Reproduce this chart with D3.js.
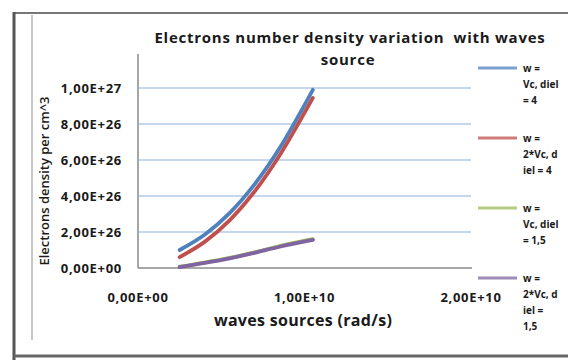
<!DOCTYPE html>
<html>
<head>
<meta charset="utf-8">
<script src="https://cdn.jsdelivr.net/npm/d3@7"></script>
<style>
  body { margin: 0; background: #fff; }
  text { font-family: "Open Sans", "Liberation Sans", Arial, sans-serif; fill: #1a1a1a; white-space: pre; }
</style>
</head>
<body>
<svg id="canvas" width="568" height="360"></svg>
<script>
// wave source frequency (rad/s)
const omega = [2.5e9, 4e9, 5.5e9, 7e9, 8.5e9, 1.05e10];

// electron density per cm^3
const blueVals = [1.0e26, 1.85e26, 3.05e26, 4.65e26, 6.65e26, 9.9e26];
const redVals = [0.6e26, 1.45e26, 2.65e26, 4.25e26, 6.25e26, 9.45e26];
const greenVals = [0.07e26, 0.3e26, 0.56e26, 0.87e26, 1.22e26, 1.6e26];
const purpleVals = [0.05e26, 0.28e26, 0.53e26, 0.84e26, 1.18e26, 1.56e26];

const seriesNames = [
  ["w =", "Vc, diel", "= 4"],
  ["w =", "2*Vc, d", "iel = 4"],
  ["w =", "Vc, diel", "= 1,5"],
  ["w =", "2*Vc, d", "iel =", "1,5"],
];
const colors = ["#4f81bd", "#c0504d", "#9bbb59", "#8064a2"];

const yTicks = [0, 2e26, 4e26, 6e26, 8e26, 1e27];
const yTickLabels = ["0,00E+00", "2,00E+26", "4,00E+26", "6,00E+26", "8,00E+26", "1,00E+27"];
const xTicks = [0, 1e10, 2e10];
const xTickLabels = ["0,00E+00", "1,00E+10", "2,00E+10"];

const series = [blueVals, redVals, greenVals, purpleVals];

const svg = d3.select("#canvas");

// frame around the chart
svg.append("line").attr("x1", 14).attr("x2", 568).attr("y1", 13).attr("y2", 13)
  .attr("stroke", "#777").attr("stroke-width", 2);
svg.append("line").attr("x1", 14).attr("x2", 14).attr("y1", 12).attr("y2", 360)
  .attr("stroke", "#555").attr("stroke-width", 3);
svg.append("line").attr("x1", 14).attr("x2", 568).attr("y1", 356).attr("y2", 356)
  .attr("stroke", "#666").attr("stroke-width", 3);
svg.append("line").attr("x1", 32).attr("x2", 32).attr("y1", 15).attr("y2", 340)
  .attr("stroke", "#c8c8c8").attr("stroke-width", 2);

const x = d3.scaleLinear().domain([0, 2e10]).range([138, 471]);
const y = d3.scaleLinear().domain([0, 1e27]).range([268, 88]);

// gridlines
svg.append("g")
  .selectAll("line")
  .data(yTicks.slice(1))
  .enter()
  .append("line")
  .attr("x1", 139)
  .attr("x2", 471)
  .attr("y1", (d) => y(d))
  .attr("y2", (d) => y(d))
  .attr("stroke", "#c6d6ef")
  .attr("stroke-width", 2);

// axes lines
svg.append("line").attr("x1", 138).attr("x2", 138).attr("y1", 54).attr("y2", y(0))
  .attr("stroke", "#8a8a8a").attr("stroke-width", 1.5);
svg.append("line").attr("x1", 138).attr("x2", 472).attr("y1", y(0)).attr("y2", y(0))
  .attr("stroke", "#8a8a8a").attr("stroke-width", 1.5);

// y tick labels
svg.append("g")
  .selectAll("text")
  .data(yTicks)
  .enter()
  .append("text")
  .attr("x", 122)
  .attr("y", (d) => y(d) + 4.5)
  .attr("text-anchor", "end")
  .attr("font-size", 13)
  .attr("letter-spacing", 0.7)
  .attr("font-weight", "bold")
  .text((d, i) => yTickLabels[i]);

// x tick labels
svg.append("g")
  .selectAll("text")
  .data(xTicks)
  .enter()
  .append("text")
  .attr("x", (d) => x(d))
  .attr("y", 302)
  .attr("text-anchor", "middle")
  .attr("font-size", 13)
  .attr("letter-spacing", 0.7)
  .attr("font-weight", "bold")
  .text((d, i) => xTickLabels[i]);

// axis titles
svg.append("text")
  .attr("x", 303)
  .attr("y", 326)
  .attr("text-anchor", "middle")
  .attr("font-size", 16)
  .attr("letter-spacing", 0.3)
  .attr("font-weight", "bold")
  .text("waves sources (rad/s)");

svg.append("text")
  .attr("transform", "translate(49,181) rotate(-90)")
  .attr("text-anchor", "middle")
  .attr("font-size", 13)
  .attr("font-weight", 600)
  .text("Electrons density per cm^3");

// title
svg.append("text")
  .attr("x", 350)
  .attr("y", 43)
  .attr("text-anchor", "middle")
  .attr("font-size", 15)
  .attr("letter-spacing", 0.75)
  .attr("font-weight", "bold")
  .text("Electrons number density variation  with waves");
svg.append("text")
  .attr("x", 348)
  .attr("y", 65)
  .attr("text-anchor", "middle")
  .attr("font-size", 15)
  .attr("letter-spacing", 0.75)
  .attr("font-weight", "bold")
  .text("source");

// curves
const line = d3.line()
  .x((d) => x(d[0]))
  .y((d) => y(d[1]))
  .curve(d3.curveCatmullRom);

svg.append("g")
  .selectAll("path")
  .data(series)
  .enter()
  .append("path")
  .attr("d", (vals) => line(omega.map((w, i) => [w, vals[i]])))
  .attr("fill", "none")
  .attr("stroke", (d, i) => colors[i])
  .attr("stroke-width", 3.8)
  .attr("stroke-linecap", "round");

// legend
const legend = svg.append("g")
  .selectAll("g")
  .data(seriesNames)
  .enter()
  .append("g")
  .attr("transform", (d, i) => `translate(478,${68 + i * 70})`);

legend.append("line")
  .attr("x1", 0)
  .attr("x2", 39)
  .attr("y1", 0)
  .attr("y2", 0)
  .attr("stroke", (d, i) => colors[i])
  .attr("stroke-width", 3)
  .attr("opacity", 0.75);

legend.append("text")
  .attr("x", 45)
  .attr("y", 4)
  .attr("font-size", 10)
  .attr("font-weight", "bold")
  .selectAll("tspan")
  .data((d) => d)
  .enter()
  .append("tspan")
  .attr("x", 45)
  .attr("dy", (d, i) => (i === 0 ? 0 : 16))
  .text((d) => d);
</script>
</body>
</html>
